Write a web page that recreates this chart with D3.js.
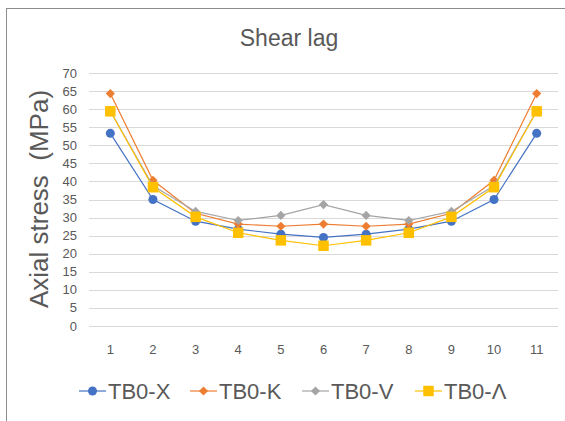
<!DOCTYPE html>
<html>
<head>
<meta charset="utf-8">
<script src="https://cdn.jsdelivr.net/npm/d3@7"></script>
<style>
  body { margin: 0; background: #fff; }
  text { font-family: "Liberation Sans", Arial, sans-serif; fill: #595959; }
</style>
</head>
<body>
<div id="chart"></div>
<script>
// positions along the girder
const positions = [1, 2, 3, 4, 5, 6, 7, 8, 9, 10, 11];

// axial stress per series (MPa)
const tb0X = [53.3, 35.0, 29.0, 26.8, 25.4, 24.5, 25.4, 26.8, 29.0, 35.0, 53.3];
const tb0K = [64.3, 40.3, 31.2, 28.2, 27.6, 28.2, 27.6, 28.2, 31.2, 40.3, 64.3];
const tb0V = [59.5, 38.8, 31.7, 29.2, 30.6, 33.6, 30.6, 29.2, 31.7, 38.8, 59.5];
const tb0L = [59.4, 38.4, 30.2, 25.8, 23.7, 22.2, 23.7, 25.8, 30.2, 38.4, 59.4];

const seriesNames = ['TB0-X', 'TB0-K', 'TB0-V', 'TB0-\u039B'];
const seriesColors = ['#4472C4', '#ED7D31', '#A5A5A5', '#FFC000'];
const seriesShapes = [d3.symbolCircle, d3.symbolSquare, d3.symbolSquare, d3.symbolSquare];
const seriesRotate = [0, 45, 45, 0];
const markerSizes = [64, 42, 42, 110];
const yTicks = d3.range(0, 71, 5);

const W = 565, H = 421;
const margin = {top: 73, right: 7, bottom: 95, left: 89};
const width = W - margin.left - margin.right;
const height = H - margin.top - margin.bottom;

const svg = d3.select('#chart').append('svg')
    .attr('width', W)
    .attr('height', H);

// outer chart border (runs off the right/bottom edge)
svg.append('rect')
    .attr('x', 6.5).attr('y', 8.5)
    .attr('width', 700).attr('height', 600)
    .attr('fill', 'none')
    .attr('stroke', '#8c8c8c');

svg.append('text')
    .attr('x', 289).attr('y', 46)
    .attr('text-anchor', 'middle')
    .style('font-size', '23px')
    .text('Shear lag');

const chart = svg.append('g')
    .attr('transform', `translate(${margin.left},${margin.top})`);

const x = d3.scaleBand().domain(positions).range([0, width]);
const y = d3.scaleLinear().domain([0, 70]).range([height, 0]);
const cx = d => x(d) + x.bandwidth() / 2;

// gridlines
chart.selectAll('.grid')
    .data(yTicks)
  .join('line')
    .attr('class', 'grid')
    .attr('x1', 0).attr('x2', width)
    .attr('y1', d => Math.round(y(d)) + 0.5)
    .attr('y2', d => Math.round(y(d)) + 0.5)
    .attr('stroke', '#d9d9d9');

// y tick labels
chart.selectAll('.ylab')
    .data(yTicks)
  .join('text')
    .attr('class', 'ylab')
    .attr('x', -12)
    .attr('y', d => y(d))
    .attr('dy', '0.35em')
    .attr('text-anchor', 'end')
    .style('font-size', '13px')
    .text(d => d);

// x tick labels
chart.selectAll('.xlab')
    .data(positions)
  .join('text')
    .attr('class', 'xlab')
    .attr('x', d => cx(d))
    .attr('y', height + 28)
    .attr('text-anchor', 'middle')
    .style('font-size', '13px')
    .text(d => d);

// y axis title
svg.append('text')
    .attr('transform', 'translate(48,199) rotate(-90)')
    .attr('text-anchor', 'middle')
    .style('font-size', '26px')
    .text('Axial stress\u00A0\u00A0(MPa)');

const allSeries = [tb0X, tb0K, tb0V, tb0L];
const line = d3.line()
    .x((d, i) => cx(positions[i]))
    .y(d => y(d));

allSeries.forEach((vals, s) => {
    chart.append('path')
        .datum(vals)
        .attr('fill', 'none')
        .attr('stroke', seriesColors[s])
        .attr('stroke-width', 1.2)
        .attr('d', line);

    chart.selectAll('.mk' + s)
        .data(vals)
      .join('path')
        .attr('class', 'mk' + s)
        .attr('transform', (d, i) => `translate(${cx(positions[i])},${y(d)}) rotate(${seriesRotate[s]})`)
        .attr('d', d3.symbol().type(seriesShapes[s]).size(markerSizes[s]))
        .attr('fill', seriesColors[s]);
});

// legend
const legendX = [79, 190, 302, 415];
const legend = svg.append('g').attr('transform', 'translate(0,391)');
seriesNames.forEach((name, s) => {
    const g = legend.append('g').attr('transform', `translate(${legendX[s]},0)`);
    g.append('line')
        .attr('x1', 0).attr('x2', 27)
        .attr('stroke', seriesColors[s])
        .attr('stroke-width', 1.2);
    g.append('path')
        .attr('transform', `translate(13.5,0) rotate(${seriesRotate[s]})`)
        .attr('d', d3.symbol().type(seriesShapes[s]).size(markerSizes[s]))
        .attr('fill', seriesColors[s]);
    g.append('text')
        .attr('x', 29)
        .attr('dy', '0.36em')
        .style('font-size', '22px')
        .text(name);
});
</script>
</body>
</html>
